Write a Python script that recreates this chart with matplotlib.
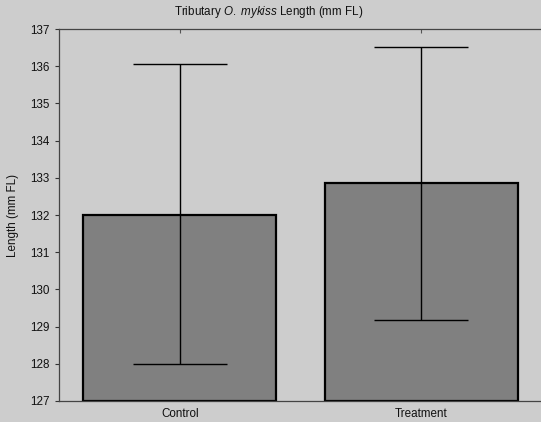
import matplotlib.pyplot as plt
import numpy as np

# datos
groups = ['Control', 'Treatment']
means = [132.0, 132.85]
upper = [136.05, 136.52]
lower = [128.0, 129.18]

plt.rcParams['font.family'] = ['Liberation Sans', 'DejaVu Sans']
plt.rcParams['mathtext.fontset'] = 'custom'
plt.rcParams['mathtext.rm'] = 'Liberation Sans'
plt.rcParams['mathtext.it'] = 'Liberation Sans:italic'

bg = '#cdcdcd'
fs = 8.4
fig = plt.figure(figsize=(5.41, 4.22), dpi=100, facecolor=bg)
ax = fig.add_axes([0.109, 0.05, 0.893, 0.881], facecolor=bg)

x = np.arange(len(groups))
m = np.array(means)
err = [m - np.array(lower), np.array(upper) - m]
ax.bar(x, m - 127, bottom=127, width=0.8, color='#808080',
       edgecolor='black', linewidth=1.6, zorder=2)
ax.errorbar(x, m, yerr=err, fmt='none', ecolor='black', elinewidth=1.0,
            capsize=34, capthick=1.0, zorder=3)

ax.set_xlim(-0.5, 1.5)
ax.set_ylim(127, 137)
ax.set_yticks(range(127, 138))
ax.set_xticks(x)
ax.set_xticklabels(groups)
ax.tick_params(axis='y', direction='out', length=3, width=0.8, labelsize=fs,
               colors='#333333', labelcolor='#111111', pad=4)
ax.tick_params(axis='x', direction='in', length=3, width=0.8, labelsize=fs,
               colors='#555555', labelcolor='#111111', top=True, pad=5)
for s in ax.spines.values():
    s.set_color('#444444')
    s.set_linewidth(0.9)
ax.spines['right'].set_visible(False)

ax.set_ylabel('Length (mm FL)', fontsize=fs, labelpad=8, color='#111111')
fig.text(0.497, 0.972, r'Tributary $\mathit{O.}$ $\mathit{mykiss}$ Length (mm FL)',
         ha='center', va='center', fontsize=fs, color='#111111')

fig.savefig('out.png', dpi=100, facecolor=bg)
